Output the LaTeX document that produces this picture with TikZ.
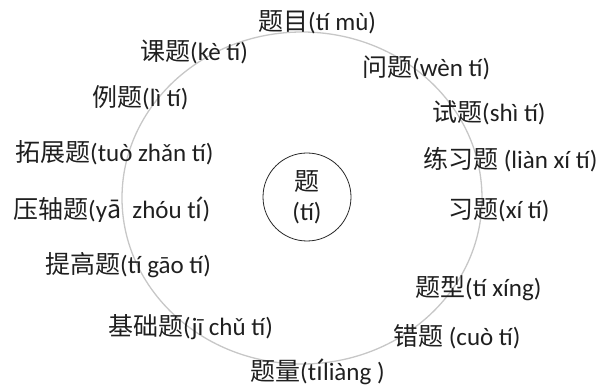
\documentclass[tikz,border=0pt]{standalone}
\usepackage{fontspec}
\setmainfont{Carlito}
\newfontfamily\cjk{Noto Sans CJK SC}
\usepackage{tikz}

\begin{document}
\begin{tikzpicture}[x=1pt,y=-1pt,
    every node/.style={font=\fontsize{25}{30}\selectfont, text=black!88, inner sep=0pt},
    word/.style={anchor=west}]
	% Fix the page to the picture size
	\useasboundingbox (0,0) rectangle (598,387);
	
	% Draw the outer ring
	\draw[black!22, line width=1.3pt] (302,198) ellipse [x radius=180pt, y radius=166pt];
	
	% Draw the centre circle
	\node[circle, draw=black!85, line width=0.8pt, minimum size=88pt, align=center] (ti) at (307,197) {{\cjk 题}\\(tí)};
	
	% Place the words round the ring
	\node[word] (timu) at (258,22) {{\cjk 题目}(tí mù)};
	\node[word] (wenti) at (362,68) {{\cjk 问题}(wèn tí)};
	\node[word] (shiti) at (432,113) {{\cjk 试题}(shì tí)};
	\node[word] (lianxiti) at (423,160) {{\cjk 练习题} (liàn xí tí)};
	\node[word] (xiti) at (448,210) {{\cjk 习题}(xí tí)};
	\node[word] (tixing) at (415,288) {{\cjk 题型}(tí xíng)};
	\node[word] (cuoti) at (393,337) {{\cjk 错题} (cuò tí)};
	\node[word] (tiliang) at (250,372) {{\cjk 题量}(t{\cjk í}liàng )};
	\node[word] (jichuti) at (108,327) {{\cjk 基础题}(jī chǔ tí)};
	\node[word] (tigaoti) at (45,265) {{\cjk 提高题}(tí gāo tí)};
	\node[word] (yazhouti) at (13,210) {{\cjk 压轴题}(y{\cjk ā}\ \ zhóu t{\cjk í})};
	\node[word] (tuozhanti) at (15,153) {{\cjk 拓展题}(tuò zhǎn tí)};
	\node[word] (liti) at (92,98) {{\cjk 例题}(lì tí)};
	\node[word] (keti) at (140,52) {{\cjk 课题}(kè tí)};
\end{tikzpicture}
\end{document}
